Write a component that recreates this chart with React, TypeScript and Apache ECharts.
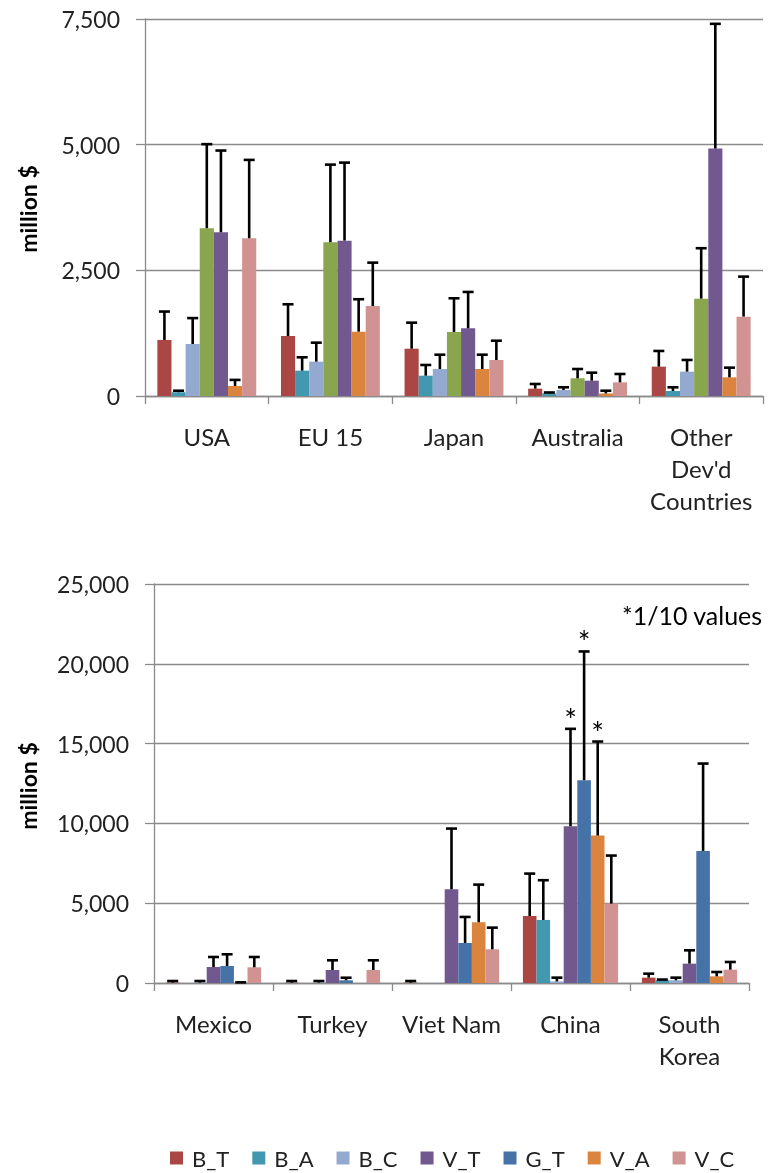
import React, { useEffect, useRef } from 'react';
import * as echarts from 'echarts';

// ---------- series / categories ----------
const seriesNames = ['B_T', 'B_A', 'B_C', 'V_T', 'G_T', 'V_A', 'V_C'];

// Top panel (developed countries)
const devCategories = ['USA', 'EU 15', 'Japan', 'Australia', "Other\nDev'd\nCountries"];
const devColors = ['#AA4643', '#4198AF', '#93A9CF', '#89A54E', '#71588F', '#DB843D', '#D19392'];
const devB_T = [1115, 1194, 941, 146, 584];
const devB_A = [75, 504, 404, 53, 100];
const devB_C = [1035, 683, 537, 119, 484];
const devV_T = [3338, 3059, 1274, 352, 1937];
const devG_T = [3258, 3091, 1347, 305, 4923];
const devV_A = [200, 1280, 537, 50, 372];
const devV_C = [3138, 1791, 716, 272, 1579];
// upper ends of the error bars
const devB_T_err = [1680, 1825, 1459, 239, 896];
const devB_A_err = [105, 770, 617, 70, 173];
const devB_C_err = [1550, 1061, 822, 173, 717];
const devV_T_err = [5010, 4603, 1944, 537, 2940];
const devG_T_err = [4883, 4643, 2070, 464, 7404];
const devV_A_err = [320, 1925, 822, 105, 564];
const devV_C_err = [4697, 2653, 1100, 438, 2375];
const devTicks = { min: 0, max: 7500, interval: 2500 };

// Bottom panel (emerging countries)
const emgCategories = ['Mexico', 'Turkey', 'Viet Nam', 'China', 'South\nKorea'];
const emgColors = ['#AA4643', '#4198AF', '#93A9CF', '#71588F', '#4572A7', '#DB843D', '#D19392'];
const emgB_T = [25, 25, 25, 4200, 335];
const emgB_A = [null, null, null, 3950, 170];
const emgB_C = [25, 25, null, 100, 170];
const emgV_T = [1003, 815, 5873, 9824, 1212];
const emgG_T = [1066, 170, 2508, 12707, 8276];
const emgV_A = [10, null, 3805, 9237, 418];
const emgV_C = [983, 815, 2112, 4975, 836];
const emgB_T_err = [125, 125, 125, 6855, 585];
const emgB_A_err = [null, null, null, 6440, 215];
const emgB_C_err = [125, 125, null, 335, 335];
const emgV_T_err = [1630, 1423, 9676, 15925, 2048];
const emgG_T_err = [1800, 330, 4138, 20773, 13750];
const emgV_A_err = [40, null, 6165, 15130, 690];
const emgV_C_err = [1630, 1423, 3469, 7985, 1317];
const emgTicks = { min: 0, max: 25000, interval: 5000 };
// bars marked with "*" (values shown at 1/10)
const starredCategory = 'China';
const starredSeries = ['V_T', 'G_T', 'V_A'];
const footnote = '*1/10 values';
const yTitle = 'million $';

const devValues = [devB_T, devB_A, devB_C, devV_T, devG_T, devV_A, devV_C];
const devErrors = [devB_T_err, devB_A_err, devB_C_err, devV_T_err, devG_T_err, devV_A_err, devV_C_err];
const emgValues = [emgB_T, emgB_A, emgB_C, emgV_T, emgG_T, emgV_A, emgV_C];
const emgErrors = [emgB_T_err, emgB_A_err, emgB_C_err, emgV_T_err, emgG_T_err, emgV_A_err, emgV_C_err];

const FONT = 'Lato';
const AXIS_GRAY = '#8a8a8a';
const GROUP_FRACTION = 0.8;

function errorSeries(panel: number, sIdx: number, nSeries: number, values: any[], tops: any[], starCats: number[]) {
  const data: any[] = [];
  values.forEach((v, c) => {
    const t = tops[c];
    if (v == null || t == null) return;
    data.push([c, v, t, starCats.includes(c) ? 1 : 0]);
  });
  return {
    type: 'custom',
    xAxisIndex: panel,
    yAxisIndex: panel,
    z: 5,
    silent: true,
    encode: { x: 0, y: [1, 2] },
    data,
    renderItem: (params: any, api: any) => {
      const c = api.value(0);
      const v = api.value(1);
      const t = api.value(2);
      const star = api.value(3);
      const p0 = api.coord([c, v]);
      const p1 = api.coord([c, t]);
      const catW = api.size([1, 0])[0];
      const groupW = catW * GROUP_FRACTION;
      const barW = groupW / nSeries;
      const x = p0[0] - groupW / 2 + (sIdx + 0.5) * barW;
      const st = { stroke: '#000', lineWidth: 2.6 };
      const children: any[] = [
        { type: 'line', shape: { x1: x, y1: p0[1], x2: x, y2: p1[1] }, style: st },
        { type: 'line', shape: { x1: x - 5.5, y1: p1[1], x2: x + 5.5, y2: p1[1] }, style: st },
      ];
      if (star) {
        children.push({
          type: 'text',
          x: x,
          y: p1[1] - 10,
          style: { text: '*', fontSize: 30, fontFamily: FONT, fill: '#000', align: 'center', verticalAlign: 'middle' },
        });
      }
      return { type: 'group', children };
    },
  };
}

function xAxis(panel: number, cats: string[]) {
  return {
    type: 'category',
    gridIndex: panel,
    data: cats,
    axisLine: { show: true, lineStyle: { color: AXIS_GRAY, width: 1.3 } },
    axisTick: { show: true, length: 8, lineStyle: { color: AXIS_GRAY, width: 1.3 } },
    axisLabel: { interval: 0, fontSize: 24, fontFamily: FONT, color: '#222', lineHeight: 32, margin: 24 },
    splitLine: { show: false },
  };
}

function yAxis(panel: number, ticks: any) {
  return {
    type: 'value',
    gridIndex: panel,
    min: ticks.min,
    max: ticks.max,
    interval: ticks.interval,
    axisLine: { show: true, lineStyle: { color: AXIS_GRAY, width: 1.3 } },
    axisTick: { show: true, length: 9, lineStyle: { color: AXIS_GRAY, width: 1.3 } },
    splitLine: { show: true, lineStyle: { color: AXIS_GRAY, width: 1.3 } },
    axisLabel: {
      fontSize: 23,
      fontFamily: FONT,
      color: '#222',
      margin: 25,
      formatter: (v: number) => v.toLocaleString('en-US'),
    },
  };
}

export default function App() {
  const ref = useRef<HTMLDivElement>(null);
  useEffect(() => {
    if (!ref.current) return;
    const chart = echarts.init(ref.current, null, { renderer: 'svg' });
    const series: any[] = [];
    const n = seriesNames.length;
    // top panel
    devValues.forEach((vals, i) => {
      series.push({
        type: 'bar',
        name: 'dev ' + seriesNames[i],
        xAxisIndex: 0,
        yAxisIndex: 0,
        data: vals,
        barGap: '0%',
        barCategoryGap: '20%',
        itemStyle: { color: devColors[i] },
        silent: true,
      });
    });
    devValues.forEach((vals, i) => series.push(errorSeries(0, i, n, vals, devErrors[i], [])));
    // bottom panel
    const starCat = emgCategories.indexOf(starredCategory);
    emgValues.forEach((vals, i) => {
      series.push({
        type: 'bar',
        name: seriesNames[i],
        xAxisIndex: 1,
        yAxisIndex: 1,
        data: vals,
        barGap: '0%',
        barCategoryGap: '20%',
        itemStyle: { color: emgColors[i] },
        silent: true,
      });
    });
    emgValues.forEach((vals, i) =>
      series.push(errorSeries(1, i, n, vals, emgErrors[i], starredSeries.includes(seriesNames[i]) ? [starCat] : []))
    );

    const titleStyle = { text: yTitle, fontSize: 23, fontWeight: 'bold', fontFamily: FONT, fill: '#000', align: 'center', verticalAlign: 'middle' };
    chart.setOption({
      animation: false,
      textStyle: { fontFamily: FONT },
      grid: [
        { left: 145, top: 19, width: 618, height: 377 },
        { left: 154, top: 584, width: 595, height: 399 },
      ],
      xAxis: [xAxis(0, devCategories), xAxis(1, emgCategories)],
      yAxis: [yAxis(0, devTicks), yAxis(1, emgTicks)],
      legend: {
        data: seriesNames,
        left: 170,
        top: 1147,
        icon: 'rect',
        itemWidth: 13,
        itemHeight: 13,
        itemGap: 23,
        padding: 0,
        selectedMode: false,
        textStyle: { fontSize: 22, fontFamily: FONT, color: '#222', padding: [0, 0, 0, 4] },
      },
      graphic: [
        { type: 'text', x: 28, y: 209, rotation: Math.PI / 2, style: titleStyle },
        { type: 'text', x: 28, y: 786, rotation: Math.PI / 2, style: titleStyle },
        {
          type: 'text',
          x: 622,
          y: 615,
          style: { text: footnote, fontSize: 25, fontFamily: FONT, fill: '#000', align: 'left', verticalAlign: 'middle' },
        },
      ],
      series,
    });
    return () => chart.dispose();
  }, []);
  return <div ref={ref} style={{ position: 'fixed', left: 0, top: 0, width: 770, height: 1173 }} />;
}
